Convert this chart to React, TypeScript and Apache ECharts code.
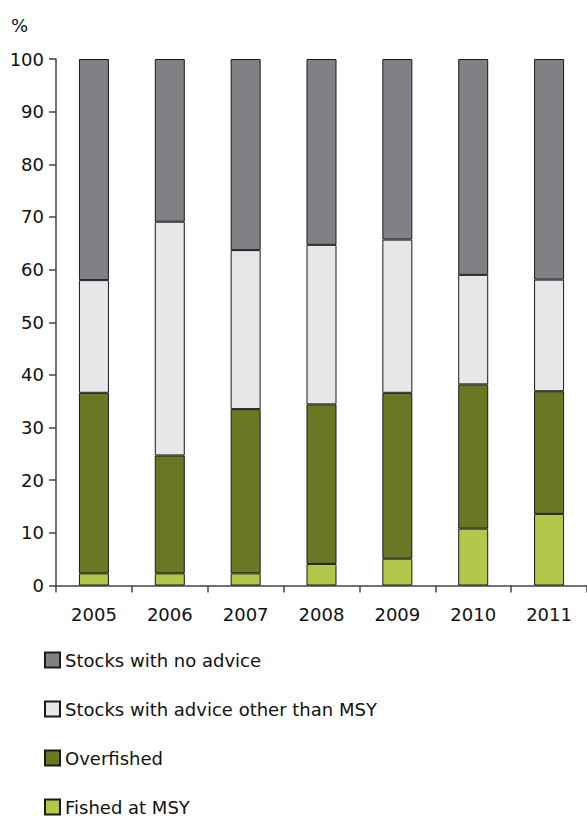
import React, { useEffect, useRef } from "react";
import * as echarts from "echarts";

const years = ["2005", "2006", "2007", "2008", "2009", "2010", "2011"];
const fishedAtMsy = [2.3, 2.3, 2.3, 4.1, 5.1, 10.8, 13.6];
const overfished = [34.3, 22.4, 31.2, 30.3, 31.5, 27.4, 23.3];
const adviceOtherThanMsy = [21.4, 44.4, 30.2, 30.3, 29.1, 20.8, 21.2];
const noAdvice = [42.0, 30.9, 36.3, 35.3, 34.3, 41.0, 41.9];

const seriesNames = [
  "Stocks with no advice",
  "Stocks with advice other than MSY",
  "Overfished",
  "Fished at MSY",
];

const FONT = "DejaVu Sans, Verdana, sans-serif";

export default function App() {
  const ref = useRef<HTMLDivElement>(null);
  useEffect(() => {
    if (!ref.current) return;
    const chart = echarts.init(ref.current, null, { renderer: "svg" });
    const mk = (name: string, data: number[], color: string) => ({
      name,
      type: "bar",
      stack: "total",
      data,
      barWidth: 30,
      itemStyle: { color, borderColor: "#1a1a1a", borderWidth: 1 },
    });
    const legends = seriesNames.map((n, i) => ({
      orient: "vertical",
      left: 44,
      top: 651 + i * 49,
      padding: 0,
      itemWidth: 15,
      itemHeight: 15,
      icon: "rect",
      data: [n],
      textStyle: { fontFamily: FONT, fontSize: 18, color: "#111" },
      selectedMode: false,
    }));
    chart.setOption({
      animation: false,
      textStyle: { fontFamily: FONT },
      grid: { left: 56, right: 0, top: 59, bottom: 230.5, containLabel: false },
      legend: legends,
      graphic: [
        {
          type: "text",
          left: 11,
          top: 16,
          style: { text: "%", fontFamily: FONT, fontSize: 18, fill: "#111" },
        },
      ],
      xAxis: {
        type: "category",
        data: years,
        boundaryGap: true,
        axisLine: { lineStyle: { color: "#444", width: 1.5 } },
        axisTick: { show: true, length: 7, lineStyle: { color: "#444", width: 1.5 } },
        axisLabel: { fontFamily: FONT, fontSize: 18, color: "#111", margin: 20 },
      },
      yAxis: {
        type: "value",
        min: 0,
        max: 100,
        interval: 10,
        splitLine: { show: false },
        axisLine: { show: true, lineStyle: { color: "#444", width: 1.5 } },
        axisTick: { show: true, length: 7, lineStyle: { color: "#444", width: 1.5 } },
        axisLabel: { fontFamily: FONT, fontSize: 18, color: "#111", margin: 12 },
      },
      series: [
        mk("Fished at MSY", fishedAtMsy, "#b2c84a"),
        mk("Overfished", overfished, "#6b7723"),
        mk("Stocks with advice other than MSY", adviceOtherThanMsy, "#e6e7e8"),
        mk("Stocks with no advice", noAdvice, "#808184"),
      ],
    });
    return () => chart.dispose();
  }, []);
  return (
    <div
      ref={ref}
      style={{ position: "absolute", left: 0, top: 0, width: 587, height: 816 }}
    />
  );
}
